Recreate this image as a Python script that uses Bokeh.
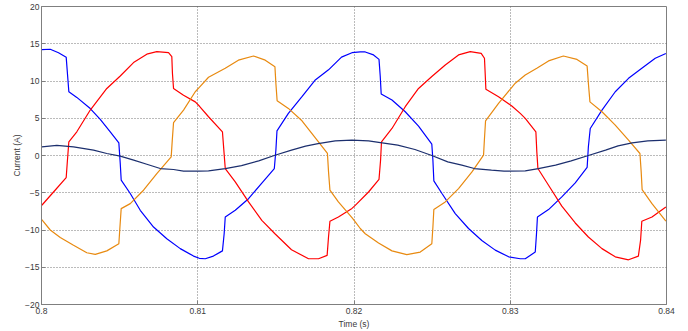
from bokeh.plotting import figure
from bokeh.models import FixedTicker, Range1d, CustomJSTickFormatter
from bokeh.embed import file_html
from bokeh.resources import INLINE

x_ticks = [0.8, 0.81, 0.82, 0.83, 0.84]
y_ticks = [-20, -15, -10, -5, 0, 5, 10, 15, 20]

blue_t = [0.80002, 0.80056, 0.80109, 0.80158, 0.80166, 0.80175, 0.80226, 0.80312, 0.80376, 0.80440,
          0.80495, 0.80504, 0.80510, 0.80568, 0.80632, 0.80717, 0.80802, 0.80888, 0.80973, 0.81010,
          0.81048, 0.81100, 0.81158, 0.81169, 0.81176, 0.81240, 0.81325, 0.81410, 0.81490, 0.81500,
          0.81507, 0.81580, 0.81667, 0.81750, 0.81837, 0.81920, 0.81987, 0.82040, 0.82072, 0.82125,
          0.82160, 0.82168, 0.82174, 0.82243, 0.82328, 0.82413, 0.82498, 0.82505, 0.82511, 0.82563,
          0.82648, 0.82733, 0.82818, 0.82904, 0.82990, 0.83064, 0.83096, 0.83160, 0.83168, 0.83174,
          0.83245, 0.83330, 0.83416, 0.83492, 0.83500, 0.83512, 0.83587, 0.83672, 0.83757, 0.83842,
          0.83928, 0.83996]
blue_i = [14.2, 14.26, 13.8, 13.2, 11.0, 8.56, 7.8, 6.3, 4.84, 3.18,
          1.7, -1.08, -3.3, -5.1, -7.35, -9.6, -11.17, -12.5, -13.5, -13.8,
          -13.86, -13.5, -12.8, -10.5, -8.25, -7.35, -5.8, -3.7, -1.75, 0.7,
          3.3, 5.65, 7.9, 10.1, 11.5, 13.2, 13.8, 13.9, 13.9, 13.5,
          12.9, 10.6, 8.25, 7.44, 5.87, 3.95, 1.52, -0.63, -3.4, -5.1,
          -7.8, -9.8, -11.4, -12.7, -13.6, -13.86, -13.86, -12.96, -10.5, -8.25,
          -7.26, -5.56, -3.68, -1.6, 1.17, 3.63, 6.1, 8.56, 10.36, 11.7,
          13.05, 13.7]

red_t = [0.80002, 0.80077, 0.80158, 0.80166, 0.80175, 0.80226, 0.80312, 0.80418, 0.80504, 0.80589,
         0.80674, 0.80738, 0.80813, 0.80834, 0.80838, 0.80845, 0.80909, 0.80984, 0.81010, 0.81069,
         0.81158, 0.81167, 0.81176, 0.81240, 0.81325, 0.81410, 0.81494, 0.81600, 0.81709, 0.81773,
         0.81828, 0.81837, 0.81846, 0.81900, 0.81987, 0.82008, 0.82093, 0.82160, 0.82170, 0.82176,
         0.82243, 0.82328, 0.82413, 0.82498, 0.82584, 0.82669, 0.82744, 0.82814, 0.82835, 0.82840,
         0.82844, 0.82925, 0.83010, 0.83064, 0.83096, 0.83164, 0.83170, 0.83177, 0.83245, 0.83330,
         0.83416, 0.83500, 0.83587, 0.83672, 0.83757, 0.83820, 0.83834, 0.83842, 0.83907, 0.83996]
red_i = [-6.68, -4.9, -2.96, -0.63, 1.84, 3.18, 6.1, 9.0, 10.67, 12.47,
         13.6, 13.95, 13.8, 13.27, 11.03, 9.0, 8.1, 7.2, 6.64, 5.2,
         3.18, 0.72, -1.75, -3.54, -6.23, -8.7, -10.5, -12.65, -13.86, -13.86,
         -13.4, -10.9, -8.83, -8.25, -7.1, -6.7, -4.9, -3.2, -0.63, 1.84,
         3.63, 6.55, 9.0, 10.6, 12.15, 13.5, 13.95, 13.7, 13.05, 10.8,
         8.9, 7.9, 6.64, 5.65, 4.98, 3.18, 0.5, -1.75, -4.0, -6.8,
         -9.06, -10.94, -12.5, -13.6, -14.0, -13.5, -11.4, -8.83, -8.25, -6.9]

orange_t = [0.80002, 0.80056, 0.80120, 0.80205, 0.80290, 0.80344, 0.80418, 0.80495, 0.80502, 0.80510,
            0.80568, 0.80653, 0.80738, 0.80830, 0.80837, 0.80845, 0.80909, 0.80984, 0.81010, 0.81069,
            0.81176, 0.81260, 0.81357, 0.81432, 0.81494, 0.81500, 0.81508, 0.81580, 0.81667, 0.81750,
            0.81830, 0.81837, 0.81846, 0.81900, 0.81987, 0.82008, 0.82040, 0.82072, 0.82157, 0.82243,
            0.82338, 0.82424, 0.82498, 0.82505, 0.82511, 0.82584, 0.82669, 0.82755, 0.82829, 0.82835,
            0.82842, 0.82925, 0.83010, 0.83032, 0.83096, 0.83170, 0.83245, 0.83340, 0.83427, 0.83492,
            0.83500, 0.83510, 0.83587, 0.83672, 0.83757, 0.83830, 0.83838, 0.83844, 0.83907, 0.83996]
orange_i = [-8.6, -10.0, -11.0, -12.06, -13.05, -13.27, -12.8, -11.84, -9.6, -7.13,
            -6.46, -4.66, -2.42, -0.18, 2.06, 4.4, 6.1, 8.56, 9.15, 10.5,
            11.7, 12.8, 13.36, 12.8, 11.9, 9.7, 7.35, 6.32, 4.66, 2.42,
            0.27, -2.2, -4.66, -6.23, -8.34, -8.9, -9.8, -10.5, -11.75, -12.8,
            -13.3, -12.96, -11.84, -9.6, -7.26, -6.23, -4.44, -2.2, 0.04, 2.29,
            4.66, 7.0, 9.15, 9.7, 10.8, 11.7, 12.7, 13.36, 12.9, 12.0,
            9.7, 7.2, 5.87, 4.08, 2.06, 0.27, -2.2, -4.57, -6.46, -8.8]

navy_t = [0.80002, 0.80098, 0.80205, 0.80333, 0.80418, 0.80504, 0.80590, 0.80674, 0.80760, 0.80845,
          0.80909, 0.81010, 0.81069, 0.81176, 0.81280, 0.81390, 0.81494, 0.81600, 0.81690, 0.81770,
          0.81880, 0.81987, 0.82093, 0.82180, 0.82280, 0.82390, 0.82498, 0.82600, 0.82690, 0.82770,
          0.82880, 0.82960, 0.83096, 0.83180, 0.83290, 0.83390, 0.83500, 0.83610, 0.83690, 0.83780,
          0.83880, 0.83996]
navy_i = [1.17, 1.35, 1.17, 0.72, 0.27, -0.09, -0.63, -1.17, -1.75, -1.88,
          -2.1, -2.1, -2.06, -1.75, -1.35, -0.72, 0.04, 0.72, 1.26, 1.6,
          1.97, 2.06, 1.97, 1.7, 1.39, 0.8, 0.0, -0.85, -1.3, -1.75,
          -1.97, -2.1, -2.06, -1.75, -1.3, -0.72, 0.0, 0.72, 1.3, 1.7,
          1.97, 2.06]

FONT = "Liberation Sans"
GRAY = "#7f7f7f"
TXT = "#3a3a3a"

p = figure(width=680, height=331, output_backend="svg", toolbar_location=None,
           x_range=Range1d(0.8, 0.84), y_range=Range1d(-20, 20),
           min_border_left=41, min_border_right=14, min_border_top=6, min_border_bottom=27,
           x_axis_label="Time (s)", y_axis_label="Current (A)")

p.line(blue_t, blue_i, line_color="#0000ff", line_width=1.2)
p.line(red_t, red_i, line_color="#ff0000", line_width=1.2)
p.line(orange_t, orange_i, line_color="#e88a10", line_width=1.2)
p.line(navy_t, navy_i, line_color="#1c2f6e", line_width=1.2)

p.xaxis.ticker = FixedTicker(ticks=x_ticks)
p.yaxis.ticker = FixedTicker(ticks=y_ticks)
p.xaxis.formatter = CustomJSTickFormatter(code="return String(Math.round(tick*100)/100);")

for ax in [p.xaxis[0], p.yaxis[0]]:
    ax.axis_line_color = GRAY
    ax.major_tick_line_color = GRAY
    ax.major_tick_in = 4
    ax.major_tick_out = 0
    ax.minor_tick_line_color = None
    ax.major_label_text_font = FONT
    ax.major_label_text_font_size = "8.5px"
    ax.major_label_text_color = TXT
    ax.axis_label_text_font = FONT
    ax.axis_label_text_font_size = "8.5px"
    ax.axis_label_text_font_style = "normal"
    ax.axis_label_text_color = TXT
p.xaxis.major_label_standoff = 3
p.xaxis.axis_label_standoff = 2
p.yaxis.major_label_standoff = 2
p.yaxis.axis_label_standoff = 0

for g in [p.xgrid[0], p.ygrid[0]]:
    g.grid_line_color = "#555555"
    g.grid_line_dash = "1 2"
    g.grid_line_width = 1
    g.grid_line_alpha = 0.8
p.xgrid.ticker = FixedTicker(ticks=x_ticks)
p.ygrid.ticker = FixedTicker(ticks=y_ticks)

p.outline_line_color = GRAY
p.outline_line_width = 1
p.background_fill_color = "white"
p.border_fill_color = "white"

open("out.html", "w").write(file_html(p, INLINE))
